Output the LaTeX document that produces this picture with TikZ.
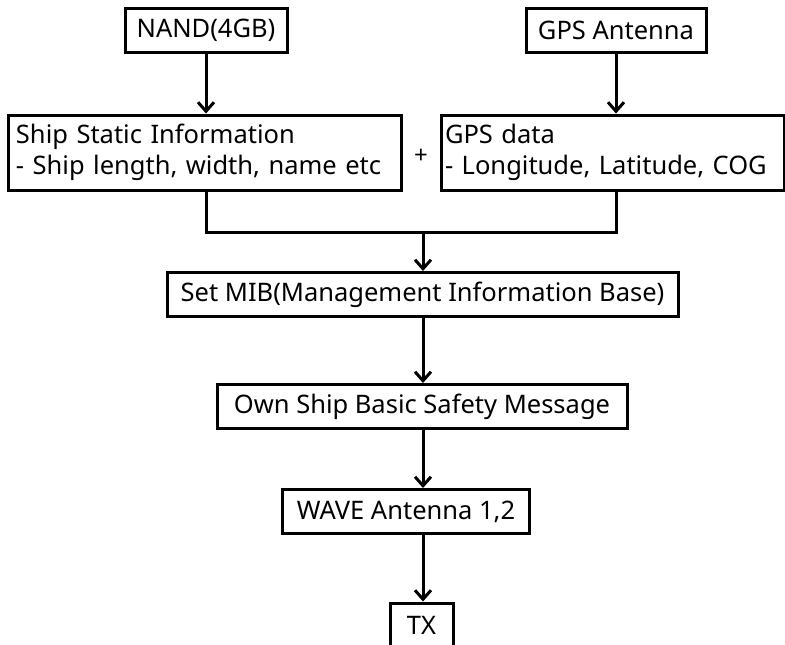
\documentclass[tikz,border=0pt]{standalone}
\usepackage{fontspec}
\setmainfont{Noto Sans}
\usetikzlibrary{arrows.meta,positioning,calc}
\tikzset{
  box/.style={draw=black, line width=3pt, align=center, inner sep=0pt, minimum height=44pt, font=\fontsize{25.5}{31}\selectfont},
  infobox/.style={draw=black, line width=3pt, align=left, inner sep=0pt, minimum height=75pt, font=\fontsize{25.5}{31}\selectfont},
  arrow/.style={-{Straight Barb[length=9pt,width=16pt,line width=3pt]}, line width=3pt},
  link/.style={line width=3pt}
}
\begin{document}
\begin{tikzpicture}[x=1pt,y=-1pt]
\useasboundingbox (0,0) rectangle (785,645);
\node[box, minimum width=162pt] (nand) at (206,30) {NAND(4GB)};
\node[box, minimum width=180pt] (gpsant) at (616,30) {GPS Antenna};
\node[infobox, minimum width=393pt, text width=377pt] (ship) at (204.5,152.5) {Ship Static Information\\- Ship length, width, name etc};
\node[infobox, minimum width=343pt, text width=335pt] (gps) at (612.5,152.5) {GPS data\\- Longitude, Latitude, COG};
\node[font=\fontsize{24}{26}\selectfont] (plus) at (421,156) {+};
\node[box, minimum width=511pt] (mib) at (422.5,294.5) {Set MIB(Management Information Base)};
\node[box, minimum width=410pt] (own) at (422,406.5) {Own Ship Basic Safety Message};
\node[box, minimum width=247pt] (wave) at (406,511.5) {WAVE Antenna 1,2};
\node[box, minimum width=63pt] (tx) at (421.5,625) {TX};
\coordinate (join) at (423,232);
\draw[arrow] (nand.south) -- (nand.south |- ship.north);
\draw[arrow] (gpsant.south) -- (gpsant.south |- gps.north);
\draw[link] (ship.south -| nand) |- (join) -| (gps.south -| gpsant);
\draw[arrow] (join) -- (join |- mib.north);
\draw[arrow] (mib.south -| join) -- (own.north -| join);
\draw[arrow] (own.south -| join) -- (wave.north -| join);
\draw[arrow] (wave.south -| join) -- (tx.north -| join);
\end{tikzpicture}
\end{document}
